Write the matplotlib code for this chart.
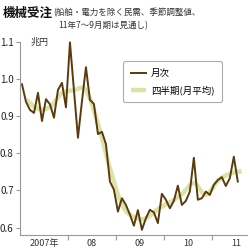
import numpy as np
import matplotlib
matplotlib.use("Agg")
import matplotlib.pyplot as plt

plt.rcParams['font.family'] = ['Noto Sans CJK JP', 'DejaVu Sans']

# Monthly orders (trillion yen), Jan 2007 .. Jul 2011
monthly = [0.986, 0.939, 0.917, 0.909, 0.963, 0.887, 0.946, 0.932, 0.896, 0.971, 0.990, 0.924,
           1.099, 0.970, 0.842, 0.940, 1.032, 0.944, 0.933, 0.852, 0.858, 0.825, 0.724, 0.702,
           0.643, 0.679, 0.661, 0.635, 0.605, 0.647, 0.594, 0.625, 0.648, 0.641, 0.612, 0.691,
           0.675, 0.652, 0.672, 0.713, 0.661, 0.672, 0.697, 0.788, 0.675, 0.679, 0.697, 0.688,
           0.715, 0.728, 0.736, 0.712, 0.733, 0.791, 0.724]
# Quarterly (monthly average), 2007Q1 .. 2011Q3
quarterly = [0.945, 0.920, 0.925, 0.962, 0.970, 0.970, 0.880, 0.760, 0.662, 0.628,
             0.625, 0.650, 0.668, 0.690, 0.720, 0.688, 0.726, 0.745, 0.752]
year_labels = ['2007年', '08', '09', '10', '11']
y_ticks = [0.6, 0.7, 0.8, 0.9, 1.0, 1.1]

mx = np.arange(len(monthly)) + 0.5
qx = np.arange(len(quarterly)) * 3 + 1.5
qy = np.array(quarterly)

# Catmull-Rom smoothing for display of the quarterly curve
def catmull(x, y, n=20):
    px = np.concatenate([[2 * x[0] - x[1]], x, [2 * x[-1] - x[-2]]])
    py = np.concatenate([[2 * y[0] - y[1]], y, [2 * y[-1] - y[-2]]])
    xs, ys = [], []
    t = np.linspace(0, 1, n, endpoint=False)
    for i in range(1, len(px) - 2):
        p0, p1, p2, p3 = py[i - 1], py[i], py[i + 1], py[i + 2]
        x0, x1, x2, x3 = px[i - 1], px[i], px[i + 1], px[i + 2]
        f = lambda a0, a1, a2, a3: 0.5 * ((2 * a1) + (-a0 + a2) * t + (2 * a0 - 5 * a1 + 4 * a2 - a3) * t ** 2 + (-a0 + 3 * a1 - 3 * a2 + a3) * t ** 3)
        xs.append(f(x0, x1, x2, x3))
        ys.append(f(p0, p1, p2, p3))
    xs.append([x[-1]]); ys.append([y[-1]])
    return np.concatenate(xs), np.concatenate(ys)

sx, sy = catmull(qx, qy)

fig = plt.figure(figsize=(2.5, 2.5), dpi=100)
ax = fig.add_axes([0.08, 0.06, 0.908, 0.772])

q_line, = ax.plot(sx, sy, color='#dbe3a8', lw=3.2, solid_capstyle='butt', label='四半期(月平均)', clip_on=False)
m_line, = ax.plot(mx, monthly, color='#5b3a0c', lw=1.4, label='月次', clip_on=False)

ax.set_xlim(0, 56.8)
ax.set_ylim(0.58, 1.1)
ax.set_yticks(y_ticks)
ax.set_yticklabels([f'{v:.1f}' for v in y_ticks])
ax.set_xticks([12, 24, 36, 48])
ax.set_xticklabels([])
ax.set_xticks([6, 18, 30, 42, 54], minor=True)
ax.set_xticklabels(year_labels, minor=True)
ax.tick_params(axis='x', which='minor', length=0, labelsize=6.5, pad=3, colors='#333333')
ax.tick_params(axis='x', which='major', length=3.5, color='#999999')
ax.tick_params(axis='y', length=3, color='#999999', labelsize=7, pad=1.5, labelcolor='#222222')
for s in ['top', 'right']:
    ax.spines[s].set_visible(False)
for s in ['left', 'bottom']:
    ax.spines[s].set_color('#999999')
    ax.spines[s].set_linewidth(0.8)

ax.text(0.045, 1.1, '兆円', transform=ax.get_yaxis_transform(), fontsize=6.5, color='#333333', va='center', ha='left')

leg = ax.legend(handles=[m_line, q_line], loc='upper left', bbox_to_anchor=(0.455, 0.9),
                fontsize=6.8, frameon=True, fancybox=True, handlelength=1.6, handletextpad=0.5,
                borderpad=0.8, labelspacing=0.75, edgecolor='#999999', borderaxespad=0)
leg.get_frame().set_linewidth(0.8)

fig.text(0.01, 0.948, '機械受注', fontsize=9, fontweight='bold', color='#111111', va='center')
fig.text(0.215, 0.948, '(船舶・電力を除く民需、季節調整値、', fontsize=6.1, color='#333333', va='center')
fig.text(0.235, 0.896, '11年7～9月期は見通し)', fontsize=6.1, color='#333333', va='center')

fig.savefig('out.png', dpi=100)
